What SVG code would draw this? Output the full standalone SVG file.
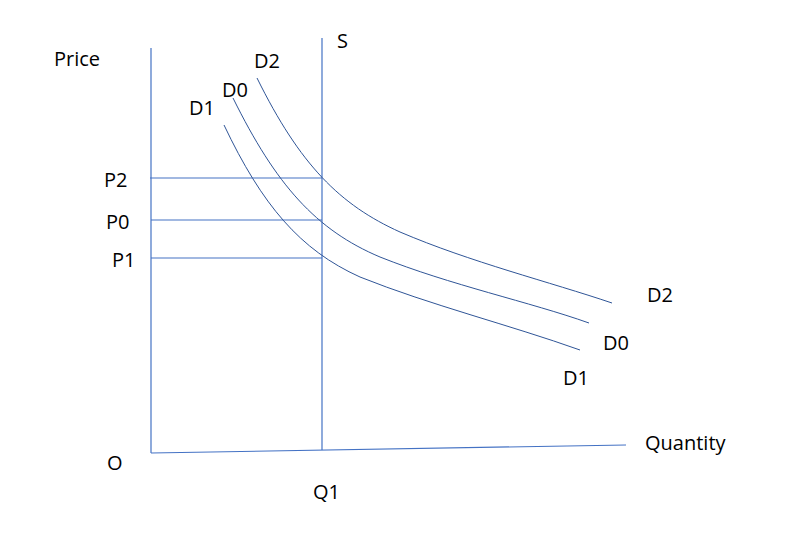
<svg xmlns="http://www.w3.org/2000/svg" width="800" height="538" viewBox="0 0 800 538">
<style>
.ax{stroke:#4472C4;stroke-width:1.2;fill:none}
.cv{stroke:#2F5597;stroke-width:1;fill:none}
text{font-family:"Open Sans","Liberation Sans",sans-serif;font-size:20px;fill:#000}
</style>
<rect width="800" height="538" fill="#fff"/>
<g id="connectors">
<line class="ax" x1="151" y1="48" x2="151" y2="453"/>
<line class="ax" x1="151" y1="453" x2="626" y2="445"/>
<line class="ax" x1="322" y1="38" x2="322" y2="450"/>
<line class="ax" x1="150" y1="178" x2="322" y2="178"/>
<line class="ax" x1="151" y1="220" x2="322" y2="220"/>
<line class="ax" x1="151" y1="258" x2="322" y2="258"/>
<path id="D2curve" class="cv" d="M257,78 C300,165 340,205 400,232 C470,262 550,282 612,303"/>
<path id="D0curve" class="cv" d="M233,98 C276,185 316,230 380,257 C450,285 530,302 589,323"/>
<path id="D1curve" class="cv" d="M224,125 C262,205 300,250 360,277 C430,305 510,325 580,350"/>
</g>
<g id="labels">
<text x="54" y="66">Price</text>
<text x="337" y="48">S</text>
<text x="254" y="68">D2</text>
<text x="222" y="97">D0</text>
<text x="189" y="115">D1</text>
<text x="104" y="187">P2</text>
<text x="106" y="229">P0</text>
<text x="112" y="267">P1</text>
<text x="647" y="302">D2</text>
<text x="603" y="350">D0</text>
<text x="563" y="385">D1</text>
<text x="645" y="450">Quantity</text>
<text x="107" y="470">O</text>
<text x="313" y="499">Q1</text>
</g>
</svg>
